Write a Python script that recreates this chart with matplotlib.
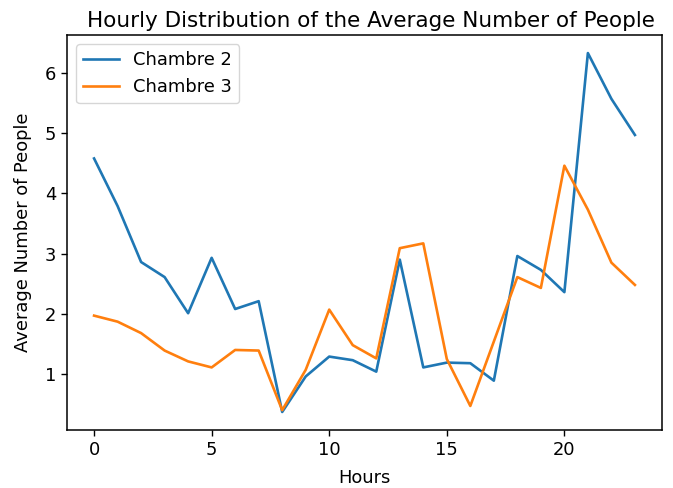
import matplotlib
matplotlib.use("Agg")
import matplotlib.pyplot as plt

# average number of people per hour
hours = list(range(24))
chambre_2 = [4.58, 3.79, 2.86, 2.61, 2.01, 2.93, 2.08, 2.21, 0.37, 0.96, 1.29, 1.23,
             1.04, 2.90, 1.11, 1.19, 1.18, 0.89, 2.96, 2.73, 2.36, 6.33, 5.57, 4.97]
chambre_3 = [1.97, 1.87, 1.68, 1.39, 1.21, 1.11, 1.40, 1.39, 0.40, 1.07, 2.07, 1.48,
             1.26, 3.09, 3.17, 1.25, 0.47, 1.54, 2.61, 2.43, 4.46, 3.73, 2.85, 2.48]

fig = plt.figure(figsize=(6.73, 4.88), dpi=100)
ax = fig.add_axes([0.0996, 0.119, 0.884, 0.809])

ax.plot(hours, chambre_2, label="Chambre 2", lw=1.9)
ax.plot(hours, chambre_3, label="Chambre 3", lw=1.9)

ax.set_xlabel("Hours", fontsize=12.9, labelpad=7)
ax.set_ylabel("Average Number of People", fontsize=12.9, labelpad=9)
ax.set_title("Hourly Distribution of the Average Number of People", fontsize=15.5, x=0.51)
ax.tick_params(labelsize=12.9, length=4.5, width=1.0)
for sp in ax.spines.values():
    sp.set_linewidth(1.1)
ax.legend(loc="upper left", fontsize=12.9)

fig.savefig("out.png", dpi=100)
